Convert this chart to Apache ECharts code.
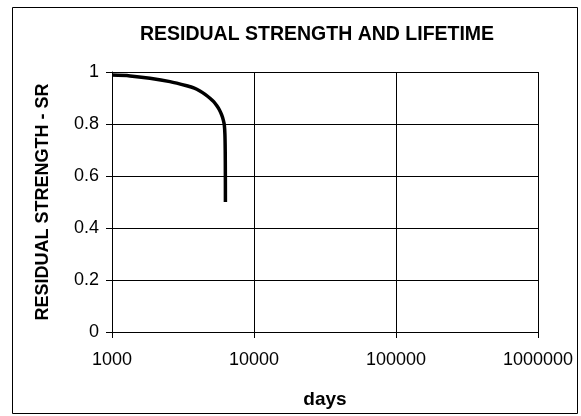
<!DOCTYPE html>
<html>
<head>
<meta charset="utf-8">
<script src="https://cdn.jsdelivr.net/npm/echarts@6/dist/echarts.min.js"></script>
<style>
  html, body { margin: 0; padding: 0; background: #fff; }
  #chart { width: 581px; height: 416px; }
</style>
</head>
<body>
<div id="chart"></div>
<script>
// 剩余强度曲线数据 (天数, SR)
var days = [1000, 1340, 1850, 2560, 3360, 3800, 4160, 4550, 4900, 5200, 5460, 5700, 5920, 6080, 6180, 6240, 6270, 6285, 6290];
var strength = [0.988, 0.985, 0.976, 0.963, 0.947, 0.938, 0.927, 0.913, 0.899, 0.886, 0.871, 0.855, 0.835, 0.815, 0.796, 0.76, 0.7, 0.6, 0.5];
var titleText = 'RESIDUAL STRENGTH AND LIFETIME';
var xName = 'days';
var yName = 'RESIDUAL STRENGTH - SR';

var font = 'Liberation Sans, Arial, sans-serif';
var points = days.map(function (d, i) { return [d, strength[i]]; });

var myChart = echarts.init(document.getElementById('chart'));
var option = {
  animation: false,
  backgroundColor: '#fff',
  title: {
    text: titleText,
    left: 312,
    top: 20,
    textAlign: 'center',
    textStyle: { fontFamily: font, fontSize: 19.5, fontWeight: 'bold', color: '#000' }
  },
  graphic: [{
    type: 'rect',
    shape: { x: 12.5, y: 7.5, width: 565, height: 406 },
    style: { fill: 'none', stroke: '#000', lineWidth: 1 },
    z: 100
  }],
  grid: { left: 112, top: 72, right: 43, bottom: 84 },
  xAxis: {
    type: 'log',
    logBase: 10,
    min: 1000,
    max: 1000000,
    name: xName,
    nameLocation: 'middle',
    nameGap: 58,
    nameTextStyle: { fontFamily: font, fontSize: 19, fontWeight: 'bold', color: '#000' },
    axisLine: { show: true, lineStyle: { color: '#000', width: 1 } },
    axisTick: { show: true, inside: false, length: 6, lineStyle: { color: '#000' } },
    minorTick: { show: false },
    axisLabel: {
      fontFamily: font, fontSize: 18, color: '#000', margin: 19,
      formatter: function (v) { return String(Math.round(v)); }
    },
    splitLine: { show: true, lineStyle: { color: '#000', width: 1 } }
  },
  yAxis: {
    type: 'value',
    min: 0,
    max: 1,
    interval: 0.2,
    name: yName,
    nameLocation: 'middle',
    nameGap: 60,
    nameTextStyle: { fontFamily: font, fontSize: 18, fontWeight: 'bold', color: '#000' },
    axisLine: { show: true, lineStyle: { color: '#000', width: 1 } },
    axisTick: { show: true, inside: false, length: 6, lineStyle: { color: '#000' } },
    axisLabel: { fontFamily: font, fontSize: 18, color: '#000', margin: 13 },
    splitLine: { show: true, lineStyle: { color: '#000', width: 1 } }
  },
  series: [{
    type: 'line',
    data: points,
    showSymbol: false,
    smooth: 0.3,
    lineStyle: { color: '#000', width: 3.5 }
  }]
};
myChart.setOption(option);
window.addEventListener('resize', function () {
  myChart.resize();
});
</script>
</body>
</html>
